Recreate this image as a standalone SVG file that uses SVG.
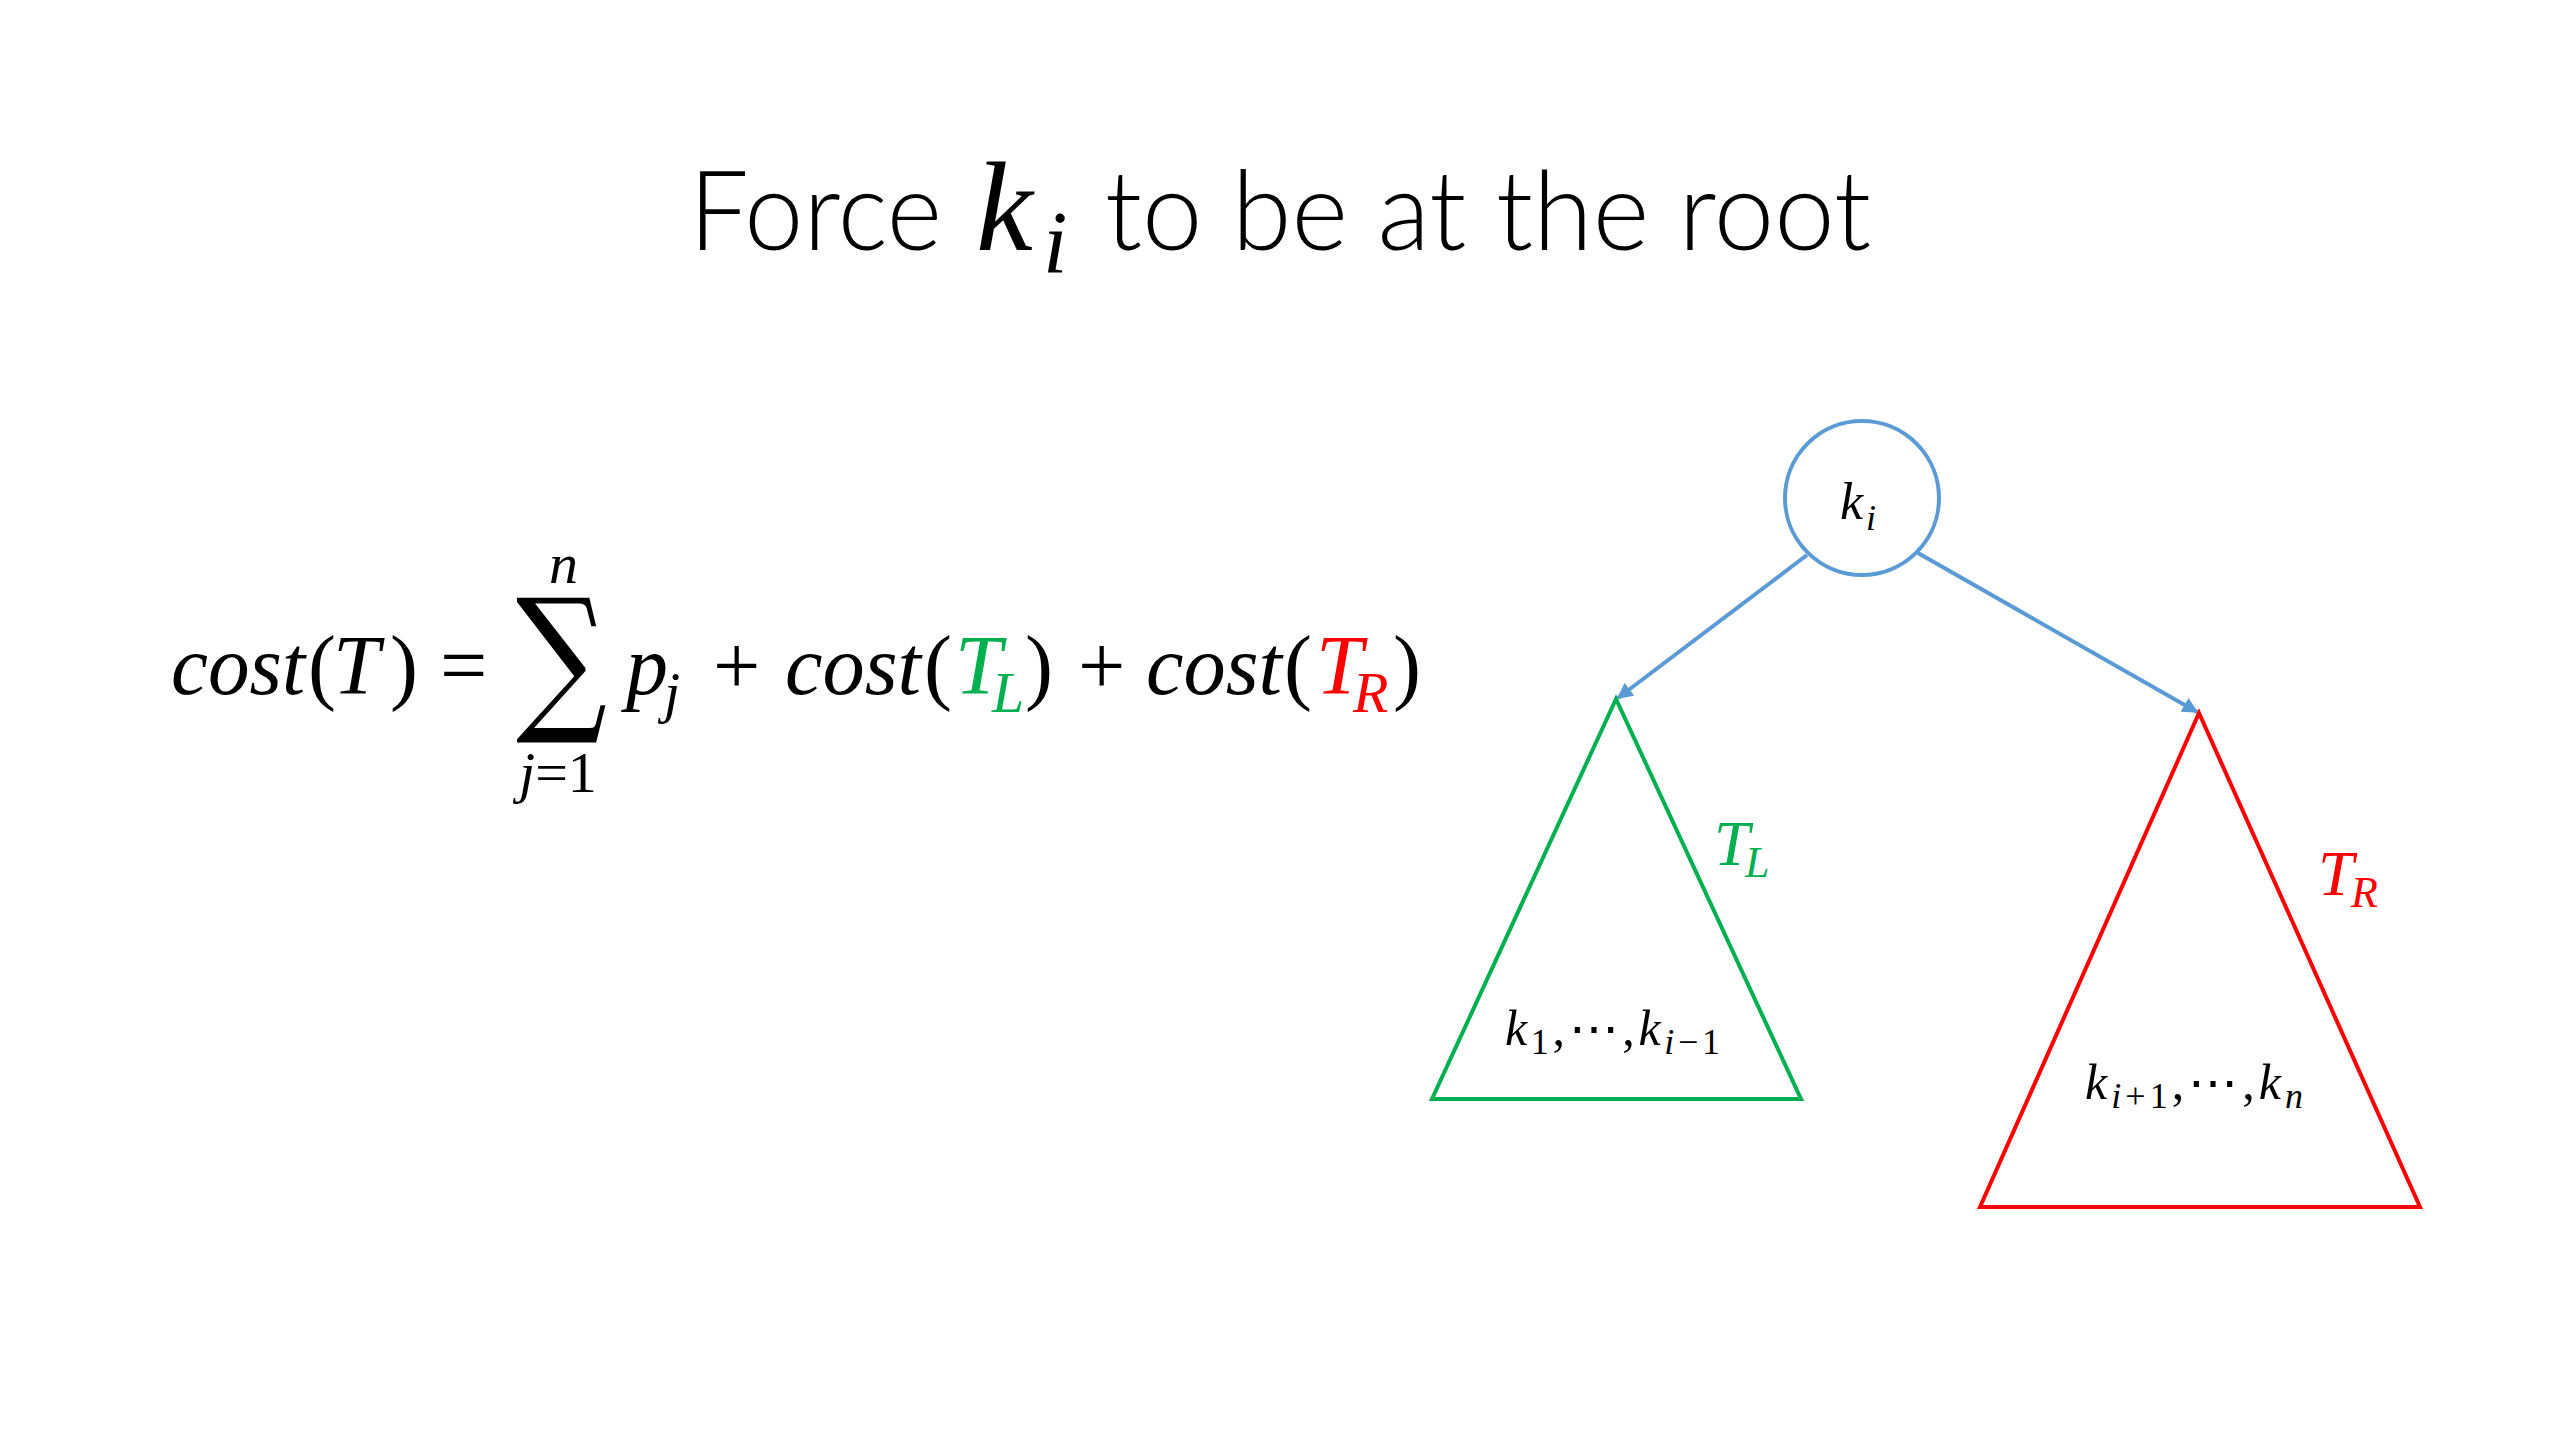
<svg xmlns="http://www.w3.org/2000/svg" width="2560" height="1440" viewBox="0 0 2560 1440">
<style>
.title{font-family:Lato,"Open Sans","Liberation Sans",sans-serif;font-weight:300;font-size:110px;fill:#000}
.m{font-family:"Liberation Serif",serif;font-style:italic;fill:#000}
.u{font-style:normal}
.eq{font-size:84px}
.sub{font-size:58px}
.g{fill:#00B050}
.r{fill:#FF0000}
.edge{stroke:#5B9BD5;stroke-width:4;fill:none}
</style>
<defs>
<marker id="arr" viewBox="0 0 10 10" refX="9" refY="5" markerWidth="4" markerHeight="4" orient="auto" markerUnits="strokeWidth">
<path d="M0,0 L10,5 L0,10 z" fill="#5B9BD5"/>
</marker>
</defs>
<rect width="2560" height="1440" fill="#fff"/>
<g id="title">
<text class="title" x="689" y="250" textLength="253" lengthAdjust="spacingAndGlyphs">Force</text>
<text class="m" x="976" y="250" font-size="128">k</text>
<text class="m" x="1043" y="272" font-size="88">i</text>
<text class="title" x="1105" y="250" textLength="766" lengthAdjust="spacingAndGlyphs">to be at the root</text>
</g>
<g id="equation">
<text class="m eq" x="171" y="694" textLength="134" lengthAdjust="spacingAndGlyphs">cost</text>
<text class="m eq u" x="308" y="694">(</text>
<text class="m eq" x="333" y="694">T</text>
<text class="m eq u" x="390" y="694">)</text>
<text class="m eq u" x="440" y="694">=</text>
<text font-family="DejaVu Serif,serif" font-size="159" x="516" y="712" textLength="91" lengthAdjust="spacingAndGlyphs">∑</text>
<text class="m sub" x="549" y="583">n</text>
<text class="m sub" x="519" y="792">j<tspan class="u">=1</tspan></text>
<text class="m eq" x="626" y="694">p</text>
<text class="m sub" x="664" y="712">j</text>
<text class="m eq u" x="713" y="694">+</text>
<text class="m eq" x="785" y="694" textLength="136" lengthAdjust="spacingAndGlyphs">cost</text>
<text class="m eq u" x="924" y="694">(</text>
<text class="m eq g" x="955" y="694">T</text>
<text class="m sub g" x="992" y="712">L</text>
<text class="m eq u" x="1025" y="694">)</text>
<text class="m eq u" x="1078" y="694">+</text>
<text class="m eq" x="1146" y="694" textLength="136" lengthAdjust="spacingAndGlyphs">cost</text>
<text class="m eq u" x="1284" y="694">(</text>
<text class="m eq r" x="1316" y="694">T</text>
<text class="m sub r" x="1353" y="712">R</text>
<text class="m eq u" x="1393" y="694">)</text>
</g>
<g id="connectors">
<line class="edge" x1="1807" y1="555" x2="1618" y2="698" marker-end="url(#arr)"/>
<line class="edge" x1="1918" y1="553" x2="2197" y2="712" marker-end="url(#arr)"/>
</g>
<g id="root">
<circle cx="1862" cy="498" r="77" fill="none" stroke="#5B9BD5" stroke-width="4"/>
<text class="m" x="1840" y="519" font-size="52">k</text>
<text class="m" x="1866" y="530" font-size="36">i</text>
</g>
<g id="left-subtree">
<polygon points="1616,699 1801,1099 1432,1099" fill="none" stroke="#00B050" stroke-width="4"/>
<text class="m g" x="1714" y="865" font-size="64">T</text>
<text class="m g" x="1745" y="877" font-size="44">L</text>
<text class="m" x="1505" y="1045" font-size="50" textLength="215" lengthAdjust="spacing">k<tspan class="u" font-size="36" dy="9">1</tspan><tspan class="u" dy="-9">,⋯,</tspan>k<tspan class="u" font-size="36" dy="9"><tspan font-style="italic">i</tspan>−1</tspan></text>
</g>
<g id="right-subtree">
<polygon points="2199,713 2420,1207 1980,1207" fill="none" stroke="#FF0000" stroke-width="4"/>
<text class="m r" x="2318" y="895" font-size="64">T</text>
<text class="m r" x="2351" y="907" font-size="44">R</text>
<text class="m" x="2085" y="1099" font-size="50" textLength="218" lengthAdjust="spacing">k<tspan font-size="36" dy="9">i<tspan class="u">+1</tspan></tspan><tspan class="u" dy="-9">,⋯,</tspan>k<tspan font-size="36" dy="9">n</tspan></text>
</g>
</svg>
